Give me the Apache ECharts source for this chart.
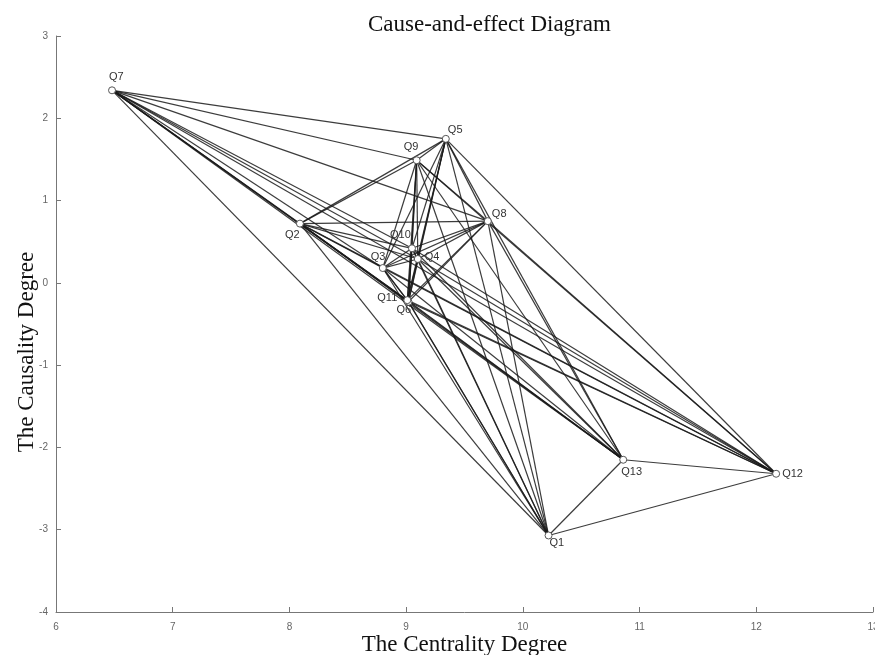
<!DOCTYPE html>
<html>
<head>
<meta charset="utf-8">
<script src="https://cdn.jsdelivr.net/npm/echarts@6/dist/echarts.min.js"></script>
<style>
  html, body { margin: 0; padding: 0; background: #fff; }
  #main { width: 875px; height: 655px; }
</style>
</head>
<body>
<div id="main"></div>
<script>
// 节点（指标）
const nodeNames = ['Q1', 'Q2', 'Q3', 'Q4', 'Q5', 'Q6', 'Q7', 'Q8', 'Q9', 'Q10', 'Q11', 'Q12', 'Q13'];
// 中心度
const centrality = [10.22, 8.09, 8.80, 9.10, 9.34, 9.02, 6.48, 9.70, 9.09, 9.05, 9.01, 12.17, 10.86];
// 原因度
const causality = [-3.07, 0.72, 0.18, 0.29, 1.75, -0.23, 2.34, 0.75, 1.49, 0.42, -0.21, -2.32, -2.15];
// 连线
const edges = [
    ['Q1', 'Q2'], ['Q1', 'Q3'], ['Q1', 'Q4'], ['Q1', 'Q5'], ['Q1', 'Q6'], ['Q1', 'Q7'],
    ['Q1', 'Q8'], ['Q1', 'Q9'], ['Q1', 'Q10'], ['Q1', 'Q11'], ['Q1', 'Q12'], ['Q1', 'Q13'],
    ['Q2', 'Q3'], ['Q2', 'Q4'], ['Q2', 'Q5'], ['Q2', 'Q6'], ['Q2', 'Q7'], ['Q2', 'Q8'],
    ['Q2', 'Q9'], ['Q2', 'Q10'], ['Q2', 'Q11'], ['Q2', 'Q12'], ['Q2', 'Q13'],
    ['Q3', 'Q4'], ['Q3', 'Q5'], ['Q3', 'Q6'], ['Q3', 'Q7'], ['Q3', 'Q8'], ['Q3', 'Q9'],
    ['Q3', 'Q10'], ['Q3', 'Q11'], ['Q3', 'Q12'], ['Q3', 'Q13'],
    ['Q4', 'Q5'], ['Q4', 'Q6'], ['Q4', 'Q7'], ['Q4', 'Q8'], ['Q4', 'Q9'], ['Q4', 'Q10'],
    ['Q4', 'Q11'], ['Q4', 'Q12'], ['Q4', 'Q13'],
    ['Q5', 'Q6'], ['Q5', 'Q7'], ['Q5', 'Q8'], ['Q5', 'Q9'], ['Q5', 'Q10'], ['Q5', 'Q11'],
    ['Q5', 'Q12'], ['Q5', 'Q13'],
    ['Q6', 'Q7'], ['Q6', 'Q8'], ['Q6', 'Q9'], ['Q6', 'Q10'], ['Q6', 'Q11'], ['Q6', 'Q12'], ['Q6', 'Q13'],
    ['Q7', 'Q8'], ['Q7', 'Q9'], ['Q7', 'Q10'], ['Q7', 'Q11'], ['Q7', 'Q12'], ['Q7', 'Q13'],
    ['Q8', 'Q9'], ['Q8', 'Q10'], ['Q8', 'Q11'], ['Q8', 'Q12'], ['Q8', 'Q13'],
    ['Q9', 'Q10'], ['Q9', 'Q11'], ['Q9', 'Q12'], ['Q9', 'Q13'],
    ['Q10', 'Q11'], ['Q10', 'Q12'], ['Q10', 'Q13'],
    ['Q11', 'Q12'], ['Q11', 'Q13'],
    ['Q12', 'Q13']
];
// 坐标轴
const xTicks = [6, 7, 8, 9, 10, 11, 12, 13];
const yTicks = [-4, -3, -2, -1, 0, 1, 2, 3];

// 标签位置（相对节点符号左上角）
const labelPos = [
    [5, 6], [-11, 10], [-8, -13], [11, -4], [6, -10], [-8, 7], [1, -15],
    [8, -9], [-9, -15], [-18, -15], [-26, -4], [10, -1], [2, 11]
];

const chart = echarts.init(document.getElementById('main'));

const nodes = nodeNames.map((name, i) => ({
    name: name,
    value: [centrality[i], causality[i]],
    label: { position: labelPos[i] }
}));
const links = edges.map(e => ({ source: e[0], target: e[1] }));

const option = {
    animation: false,
    title: {
        text: 'Cause-and-effect Diagram',
        left: 368,
        top: 13,
        padding: 0,
        textStyle: {
            fontFamily: 'Liberation Serif',
            fontWeight: 'normal',
            fontSize: 23,
            color: '#111'
        }
    },
    grid: {
        left: 56,
        top: 36,
        right: 2,
        bottom: 43,
        outerBoundsMode: 'none'
    },
    xAxis: {
        type: 'value',
        min: xTicks[0],
        max: xTicks[xTicks.length - 1],
        interval: 1,
        name: 'The Centrality Degree',
        nameLocation: 'middle',
        nameGap: 21,
        nameMoveOverlap: false,
        nameTextStyle: {
            fontFamily: 'Liberation Serif',
            fontSize: 23,
            color: '#111'
        },
        axisLine: { onZero: false, lineStyle: { color: '#777' } },
        axisTick: { inside: true, length: 5, lineStyle: { color: '#777' } },
        axisLabel: { color: '#666', fontSize: 10, fontFamily: 'Liberation Sans', margin: 10 },
        splitLine: { show: false }
    },
    yAxis: {
        type: 'value',
        min: yTicks[0],
        max: yTicks[yTicks.length - 1],
        interval: 1,
        name: 'The Causality Degree',
        nameLocation: 'middle',
        nameGap: 18,
        nameMoveOverlap: false,
        nameTextStyle: {
            fontFamily: 'Liberation Serif',
            fontSize: 23,
            color: '#111',
            padding: [0, 56, 0, 0]
        },
        axisLine: { show: true, onZero: false, lineStyle: { color: '#777' } },
        axisTick: { show: true, inside: true, length: 5, lineStyle: { color: '#777' } },
        axisLabel: { color: '#666', fontSize: 10, fontFamily: 'Liberation Sans', margin: 8 },
        splitLine: { show: false }
    },
    series: [{
        type: 'graph',
        coordinateSystem: 'cartesian2d',
        layout: 'none',
        symbol: 'circle',
        symbolSize: 7,
        itemStyle: {
            color: '#fff',
            borderColor: '#555',
            borderWidth: 1
        },
        label: {
            show: true,
            fontSize: 11,
            fontFamily: 'Liberation Sans',
            color: '#333'
        },
        lineStyle: {
            color: '#1a1a1a',
            width: 1.2,
            opacity: 0.85,
            curveness: 0
        },
        emphasis: { disabled: true },
        data: nodes,
        links: links
    }]
};

option && chart.setOption(option);
</script>
</body>
</html>
